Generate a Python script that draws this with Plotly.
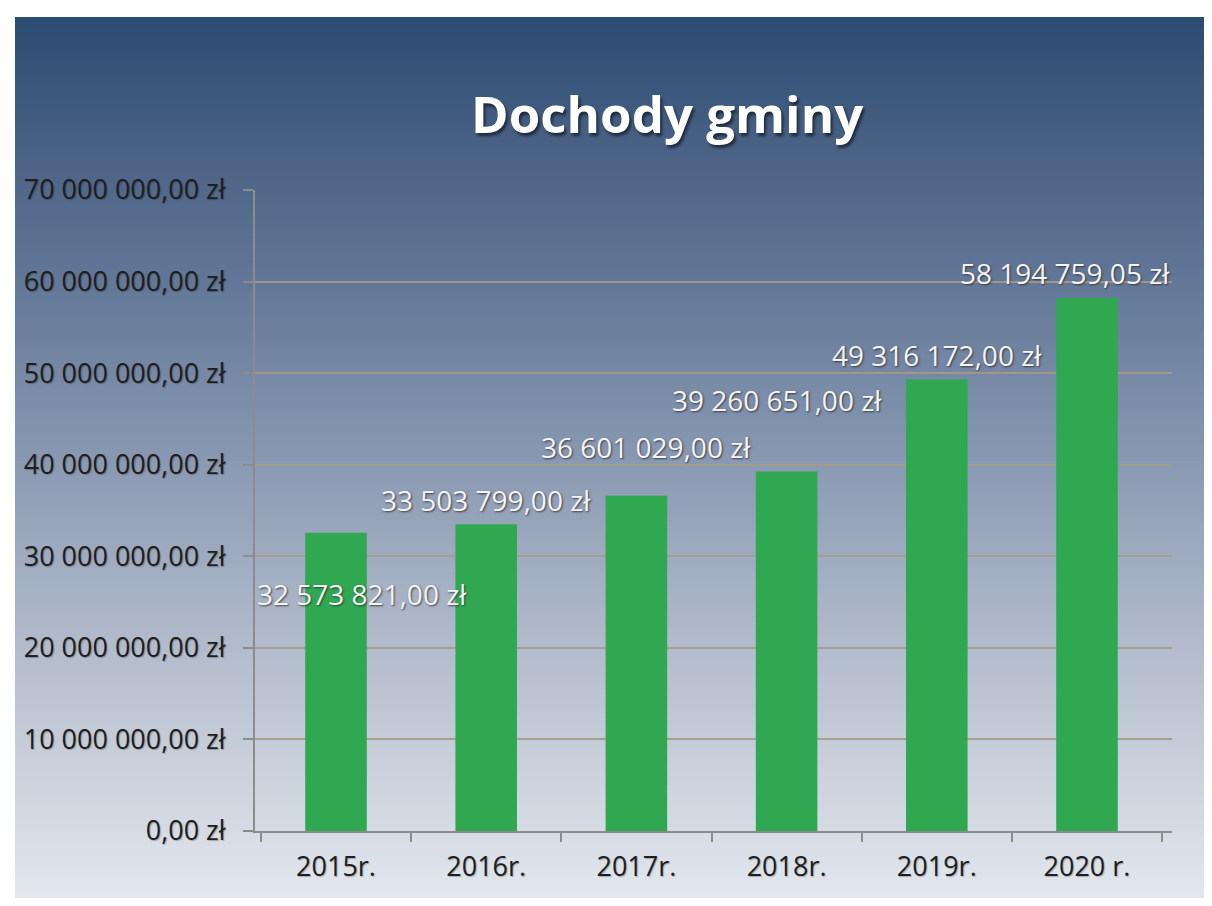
import plotly.graph_objects as go

# ---- data ----
categories = ["2015r.", "2016r.", "2017r.", "2018r.", "2019r.", "2020 r."]
values = [32573821.00, 33503799.00, 36601029.00, 39260651.00, 49316172.00, 58194759.05]
value_labels = ["32 573 821,00 zł", "33 503 799,00 zł", "36 601 029,00 zł",
                "39 260 651,00 zł", "49 316 172,00 zł", "58 194 759,05 zł"]
y_tick_values = [0, 10e6, 20e6, 30e6, 40e6, 50e6, 60e6, 70e6]
y_tick_labels = ["0,00 zł", "10 000 000,00 zł", "20 000 000,00 zł", "30 000 000,00 zł",
                 "40 000 000,00 zł", "50 000 000,00 zł", "60 000 000,00 zł", "70 000 000,00 zł"]
title_text = "Dochody gminy"

# ---- style / layout ----
OFF = 8  # page body margin
W, H = 1212 - OFF, 906 - 2 * OFF
ML, MT = 255 - OFF, 190 - OFF
MR = (OFF + W) - 1172
MB = (OFF + H) - 831
plot_w = W - ML - MR
plot_h = H - MT - MB
label_xshift = [26, 0, 10, -10, 0, -22]
label_yshift = [-61, 24, 49, 71, 24, 25]

FONT = "Open Sans"
bar_color = "#30a852"

grad_stops = [(17, (44, 75, 114)), (170, (78, 101, 136)), (330, (108, 128, 158)),
              (450, (135, 151, 177)), (650, (179, 188, 204)), (880, (223, 228, 235)),
              (906, (228, 232, 238))]


def color_at(py):
    for (y0, c0), (y1, c1) in zip(grad_stops[:-1], grad_stops[1:]):
        if y0 <= py <= y1:
            t = (py - y0) / (y1 - y0)
            return "rgb(%d,%d,%d)" % tuple(round(a + (b - a) * t) for a, b in zip(c0, c1))
    return "rgb(%d,%d,%d)" % grad_stops[-1][1]


def px_to_paper_x(px):
    return (px - OFF - ML) / plot_w


def px_to_paper_y(py):
    return (H - MB - (py - OFF)) / plot_h


shapes = []
step = 6
py = 17
while py < 906:
    y_end = min(py + step, 906)
    shapes.append(dict(type="rect", xref="paper", yref="paper", layer="below",
                       x0=px_to_paper_x(15), x1=px_to_paper_x(1212 + 5),
                       y0=px_to_paper_y(y_end + 1), y1=px_to_paper_y(py),
                       fillcolor=color_at((py + y_end) / 2), line=dict(width=0)))
    py = y_end

fig = go.Figure()
fig.add_trace(go.Bar(x=categories, y=values, marker=dict(color=bar_color, line=dict(width=0)),
                     width=0.41, hoverinfo="skip"))

annotations = []
for cat, val, txt, dx, dy in zip(categories, values, value_labels, label_xshift, label_yshift):
    annotations.append(dict(x=cat, y=val, xref="x", yref="y", text=txt, showarrow=False,
                            xshift=dx, yshift=dy, yanchor="middle",
                            font=dict(family=FONT, size=28, color="#f4f4f4",
                                      shadow="1px 1px 2px rgba(40,40,40,0.8)")))

annotations.append(dict(x=px_to_paper_x(667), y=px_to_paper_y(113), xref="paper", yref="paper",
                        text="<b>" + title_text + "</b>", showarrow=False,
                        xanchor="center", yanchor="middle",
                        font=dict(family=FONT, size=51, color="white",
                                  shadow="2px 3px 3px rgba(0,0,0,0.55)")))

fig.update_layout(
    width=W, height=H,
    margin=dict(l=ML, r=MR, t=MT, b=MB, pad=0),
    paper_bgcolor="white",
    plot_bgcolor="rgba(0,0,0,0)",
    shapes=shapes,
    annotations=annotations,
    showlegend=False,
)
fig.update_yaxes(range=[0, 70e6], tickvals=y_tick_values, ticktext=y_tick_labels,
                 showgrid=True, gridcolor="rgba(165,155,135,0.9)", gridwidth=1.5,
                 showline=True, linecolor="#8c8c8c", linewidth=2,
                 ticks="outside", ticklen=10, tickcolor="#8c8c8c", tickwidth=2,
                 ticklabelstandoff=12, zeroline=False,
                 tickfont=dict(family=FONT, size=27, color="#1e1e1e",
                               shadow="1px 1px 1px rgba(0,0,0,0.25)"))
fig.update_xaxes(showline=True, linecolor="#8c8c8c", linewidth=2,
                 ticks="outside", ticklen=9, tickcolor="#8c8c8c", tickwidth=2,
                 tickson="boundaries", showgrid=False,
                 ticklabelstandoff=11,
                 tickfont=dict(family=FONT, size=27, color="#1e1e1e",
                               shadow="1px 1px 1px rgba(0,0,0,0.25)"))

fig.write_html("out.html")
